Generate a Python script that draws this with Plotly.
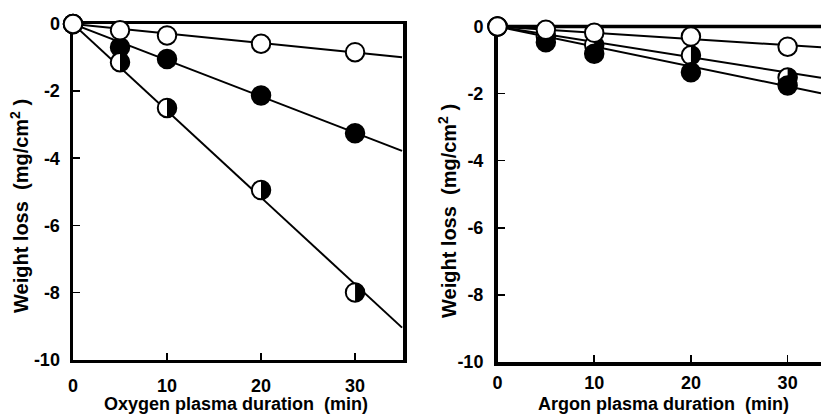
import numpy as np
import plotly.graph_objects as go

# ---------------- data ----------------
time_min = [0, 5, 10, 20, 30]

# Oxygen plasma (left panel)
o2_open = [0, -0.19, -0.34, -0.59, -0.84]
o2_filled = [0, -0.69, -1.04, -2.13, -3.26]
o2_half = [0, -1.14, -2.50, -4.95, -8.00]
o2_fit_x = [0, 35]
o2_fit_open = [0, -0.99]
o2_fit_filled = [0, -3.78]
o2_fit_half = [0, -9.05]

# Argon plasma (right panel)
ar_open = [0, -0.10, -0.19, -0.30, -0.60]
ar_filled = [0, -0.47, -0.81, -1.36, -1.76]
ar_half = [0, -0.30, -0.55, -0.86, -1.52]
ar_fit_x = [0, 33.45]
ar_fit_open = [0, -0.62]
ar_fit_half = [0, -1.53]
ar_fit_filled = [0, -1.99]

x_tickvals = [0, 10, 20, 30]
x_ticktext = ["0", "10", "20", "30"]
y_tickvals = [0, -2, -4, -6, -8, -10]
y_ticktext = ["0", "-2", "-4", "-6", "-8", "-10"]

x_title_left = "Oxygen plasma duration\u00a0 (min)"
x_title_right = "Argon plasma duration\u00a0 (min)"
y_title = "Weight loss\u00a0 (mg/cm<sup>2</sup>\u00a0)"

# ---------------- layout geometry ----------------
W, H = 821, 416
FONT = "Liberation Sans, Arial, sans-serif"

x1_dom = [73 / W, 403 / W]
y1_dom = [1 - 359.5 / H, 1 - 24 / H]
x1_rng = [0, 35.1]
x2_dom = [497.5 / W, 1.0]
y2_dom = [1 - 362 / H, 1 - 26.5 / H]
x2_rng = [0, 33.45]
y_rng = [-10, 0]

MS = 18.5    # marker diameter (px)
MLW = 2      # marker outline width


def px_per_unit(dom, rng, size):
    return (dom[1] - dom[0]) * size / (rng[1] - rng[0])


fig = go.Figure()


def add_line(xs, ys, xa, ya):
    fig.add_trace(go.Scatter(x=xs, y=ys, mode="lines", xaxis=xa, yaxis=ya,
                             line=dict(color="black", width=2),
                             cliponaxis=False, hoverinfo="skip"))


def add_markers(xs, ys, xa, ya, fill):
    fig.add_trace(go.Scatter(x=xs, y=ys, mode="markers", xaxis=xa, yaxis=ya,
                             marker=dict(symbol="circle", size=MS, color=fill,
                                         line=dict(color="black", width=MLW)),
                             cliponaxis=False, hoverinfo="skip"))


def add_half(xs, ys, xa, ya, xdom, xrng, ydom, yrng):
    # white circle with black outline, right half filled black
    add_markers(xs, ys, xa, ya, "white")
    kx = px_per_unit(xdom, xrng, W)
    ky = px_per_unit(ydom, yrng, H)
    r = MS / 2
    t = np.linspace(-np.pi / 2, np.pi / 2, 40)
    for x0, y0 in zip(xs, ys):
        px = x0 + (r / kx) * np.cos(t)
        py = y0 + (r / ky) * np.sin(t)
        fig.add_trace(go.Scatter(x=px, y=py, mode="lines", fill="toself",
                                 fillcolor="black", xaxis=xa, yaxis=ya,
                                 line=dict(color="black", width=0.5),
                                 cliponaxis=False, hoverinfo="skip"))


# left panel
add_line(o2_fit_x, o2_fit_open, "x", "y")
add_line(o2_fit_x, o2_fit_filled, "x", "y")
add_line(o2_fit_x, o2_fit_half, "x", "y")
add_markers(time_min, o2_filled, "x", "y", "black")
add_half(time_min, o2_half, "x", "y", x1_dom, x1_rng, y1_dom, y_rng)
add_markers(time_min, o2_open, "x", "y", "white")

# right panel
add_line(ar_fit_x, ar_fit_open, "x2", "y2")
add_line(ar_fit_x, ar_fit_half, "x2", "y2")
add_line(ar_fit_x, ar_fit_filled, "x2", "y2")
add_half(time_min, ar_half, "x2", "y2", x2_dom, x2_rng, y2_dom, y_rng)
add_markers(time_min, ar_filled, "x2", "y2", "black")
add_markers(time_min, ar_open, "x2", "y2", "white")

tickfont = dict(family=FONT, size=18, color="black", weight="bold")
common = dict(showgrid=False, zeroline=False, showline=True, linecolor="black",
              linewidth=3.5, ticks="inside", ticklen=7, tickwidth=1.5,
              tickcolor="black", tickfont=tickfont, layer="below traces",
              automargin=False, fixedrange=True)

fig.update_layout(
    width=W, height=H,
    margin=dict(l=0, r=0, t=0, b=0),
    paper_bgcolor="white", plot_bgcolor="white",
    showlegend=False,
    xaxis=dict(domain=x1_dom, range=x1_rng, anchor="y", mirror=True,
               tickvals=x_tickvals, ticktext=x_ticktext,
               ticklabelstandoff=7, **common),
    yaxis=dict(domain=y1_dom, range=y_rng, anchor="x", mirror=True,
               tickvals=y_tickvals, ticktext=y_ticktext,
               ticklabelstandoff=6, **common),
    xaxis2=dict(domain=x2_dom, range=x2_rng, anchor="y2", mirror=False,
                tickvals=x_tickvals, ticktext=x_ticktext,
                ticklabelstandoff=2, **common),
    yaxis2=dict(domain=y2_dom, range=y_rng, anchor="x2", mirror=False,
                tickvals=y_tickvals, ticktext=y_ticktext,
                ticklabelstandoff=7, **common),
)

# top frame line of the right panel (its right side is outside the picture)
fig.add_shape(type="line", xref="x2 domain", yref="y2 domain",
              x0=0, x1=1, y0=1, y1=1, layer="below",
              line=dict(color="black", width=3.5))

titlefont = dict(family=FONT, size=18, color="black", weight="bold")
ytitlefont = dict(family=FONT, size=20, color="black", weight="bold")
fig.add_annotation(text=x_title_left, xref="paper", yref="paper",
                   x=236 / W, y=1 - 404 / H, xanchor="center", yanchor="middle",
                   showarrow=False, font=titlefont)
fig.add_annotation(text=x_title_right, xref="paper", yref="paper",
                   x=663 / W, y=1 - 404 / H, xanchor="center", yanchor="middle",
                   showarrow=False, font=titlefont)
fig.add_annotation(text=y_title, xref="paper", yref="paper", textangle=-90,
                   x=19 / W, y=1 - 206 / H, xanchor="center", yanchor="middle",
                   showarrow=False, font=ytitlefont)
fig.add_annotation(text=y_title, xref="paper", yref="paper", textangle=-90,
                   x=447 / W, y=1 - 211 / H, xanchor="center", yanchor="middle",
                   showarrow=False, font=ytitlefont)

fig.write_html("out.html",
               config={"displayModeBar": False, "staticPlot": True},
               post_script="document.body.style.margin='0px';"
                           "document.body.style.overflow='hidden';")
